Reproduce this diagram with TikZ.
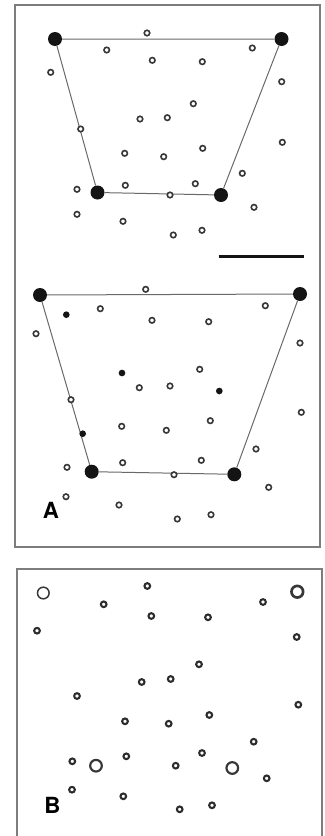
\documentclass[tikz,border=0pt]{standalone}
\usepackage{fontspec}
\setsansfont{TeX Gyre Heros}
\usetikzlibrary{positioning}
\definecolor{framegray}{RGB}{125,125,125}
\definecolor{edgegray}{RGB}{105,105,105}
\definecolor{inkblack}{RGB}{20,20,20}

\begin{document}
\begin{tikzpicture}[
    x=0.03cm, y=-0.03cm,
    panel/.style={draw=framegray, line width=0.035cm},
    corner/.style={circle, fill=inkblack, inner sep=0pt, minimum size=0.42cm},
    solid dot/.style={circle, fill=inkblack, inner sep=0pt, minimum size=0.2cm},
    ring/.style={circle, draw=inkblack!85, fill=white, line width=0.048cm, inner sep=0pt, minimum size=0.165cm},
    thick ring/.style={ring, draw=inkblack!90, line width=0.062cm, minimum size=0.17cm},
    big ring/.style={ring, line width=0.045cm, minimum size=0.35cm},
    edge/.style={draw=edgegray, line width=0.03cm},
    tag/.style={font=\sffamily\bfseries\fontsize{19}{19}\selectfont, inner sep=0pt}
]
\clip (0,0) rectangle (324,836);

\draw[panel] (15,5) rectangle (320,547);
\draw[panel] (17,569) rectangle (322,850);

\node[corner] (ul) at (55,39) {};
\node[corner] (ur) at (281.5,39) {};
\node[corner] (ll) at (97.5,192.5) {};
\node[corner] (lr) at (221,195) {};
\draw[edge] (ul) -- (ur) -- (lr) -- (ll) -- (ul);

\foreach \x/\y [count=\i] in {147/33, 106.7/50, 252.3/48, 152.3/60.3, 202.3/61.7, 50.7/72.3,
    281.7/81.7, 193.3/103.7, 140/119, 167.3/117.7, 80.7/129, 282.3/142.3, 124.7/153.3,
    163.7/156.7, 202.7/148.3, 242.3/173.3, 77/189.3, 125.3/185.3, 195.3/183.7, 170/195,
    254/207.3, 77/214.3, 123/221.3, 173.3/235, 202/230.3}
    \node[ring] (u\i) at (\x,\y) {};

\coordinate (barl) at (218.5,256.5);
\coordinate (barr) at (303.5,256.5);
\draw[inkblack, line width=0.09cm] (barl) -- (barr);

\node[corner] (al) at (40,295) {};
\node[corner] (ar) at (300,294) {};
\node[corner] (bl) at (91.7,471.7) {};
\node[corner] (br) at (234.3,474.3) {};
\draw[edge] (al) -- (ar) -- (br) -- (bl) -- (al);

\foreach \x/\y [count=\i] in {66.3/314.7, 122/373, 219.3/391, 82.7/433.7}
    \node[solid dot] (s\i) at (\x,\y) {};

\foreach \x/\y [count=\i] in {145.7/289.3, 100.3/308.7, 265.3/305.7, 152/320.3, 208.7/321.7,
    36/333.7, 300/343, 199.7/369.3, 139.3/387.7, 170/386, 71/399.7, 301.3/412.3,
    121.7/426.3, 166.3/430.3, 210.3/420.7, 256/449, 67/467.3, 122.7/462.7, 201.3/460.3,
    174/474.7, 268.7/487.3, 66/496.7, 119/505, 177.3/519, 211/514.7}
    \node[ring] (a\i) at (\x,\y) {};

\node[tag] (labela) at (51,510) {A};

\node[big ring, line width=0.045cm] (p1) at (43.3,593) {};
\node[big ring, line width=0.08cm] (p2) at (297.3,591.7) {};
\node[big ring, line width=0.065cm] (p3) at (96,765.7) {};
\node[big ring, line width=0.065cm] (p4) at (232.3,768) {};

\foreach \x/\y [count=\i] in {147.3/586, 103.7/604.3, 263/602, 151.3/616, 208/617.3,
    37/630.7, 296.7/637, 199/664.3, 141.7/682, 170.7/679, 77/696, 298.3/704.7,
    125/721.3, 168.7/723.7, 209.3/715, 253.7/741.7, 72.3/761.3, 126.3/756.3,
    202/753, 175.7/765.7, 266.7/778.3, 72/789.7, 123.3/796.3, 179.7/809.3, 212/805.3}
    \node[thick ring] (b\i) at (\x,\y) {};

\node[tag] (labelb) at (52.5,805) {B};

\end{tikzpicture}
\end{document}
